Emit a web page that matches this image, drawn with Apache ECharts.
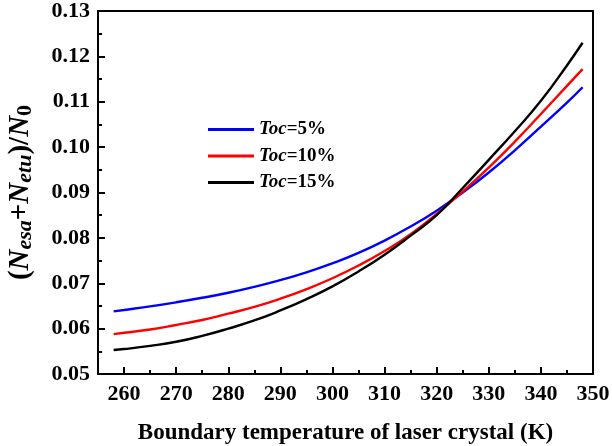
<!DOCTYPE html>
<html><head><meta charset="utf-8">
<script src="https://cdn.jsdelivr.net/npm/echarts@6/dist/echarts.min.js"></script>
<style>html,body{margin:0;padding:0;background:#fff}#c{width:612px;height:446px}</style>
</head><body><div id="c"></div>
<script>
var temps = [258,260,265,270,275,280,285,290,295,300,305,310,315,320,325,330,335,340,345,348];
var toc5  = [0.0638,0.0641,0.0649,0.0658,0.0668,0.0679,0.0692,0.0707,0.0724,0.0744,0.0767,0.0794,0.0825,0.0860,0.0900,0.0944,0.0993,0.1045,0.1098,0.1132];
var toc10 = [0.0588,0.0591,0.0598,0.0608,0.0619,0.0633,0.0648,0.0666,0.0687,0.0711,0.0739,0.0771,0.0808,0.0853,0.0902,0.0955,0.1012,0.1073,0.1135,0.1172];
var toc15 = [0.0553,0.0555,0.0562,0.0571,0.0584,0.0600,0.0618,0.0640,0.0665,0.0693,0.0726,0.0763,0.0805,0.0850,0.0910,0.0972,0.1035,0.1102,0.1180,0.1230];
var seriesNames = ['Toc=5%','Toc=10%','Toc=15%'];
var xMajor = [260,270,280,290,300,310,320,330,340,350];
var xMinor = [265,275,285,295,305,315,325,335,345];

var FONT = '"Liberation Serif","Times New Roman",serif';
function pairs(ys){ return temps.map(function(t,i){ return [t, ys[i]]; }); }
var chart = echarts.init(document.getElementById('c'));
var axisLine = {show:true, lineStyle:{color:'#000', width:2}};
chart.setOption({
  backgroundColor:'#fff',
  animation:false,
  grid:{left:98, right:19, top:11, bottom:72, containLabel:false, outerBoundsMode:'none'},
  legend:{
    orient:'vertical', left:208, top:120, itemGap:7.5, padding:0,
    itemWidth:46, itemHeight:3, icon:'rect',
    data:seriesNames,
    formatter:function(n){ return '{i|Toc}{b|' + n.slice(3) + '}'; },
    textStyle:{
      rich:{
        i:{fontFamily:FONT, fontStyle:'italic', fontWeight:'bold', fontSize:19, lineHeight:20, color:'#000'},
        b:{fontFamily:FONT, fontWeight:'bold', fontSize:19, lineHeight:20, color:'#000'}
      }
    }
  },
  xAxis:[
    {type:'value', min:255, max:350, position:'bottom',
     axisLine:axisLine,
     axisTick:{show:true, inside:true, length:7, customValues:xMajor, lineStyle:{color:'#000', width:2}},
     axisLabel:{customValues:xMajor, margin:9, color:'#000', fontFamily:FONT, fontWeight:'bold', fontSize:22},
     splitLine:{show:false},
     name:'Boundary temperature of laser crystal (K)', nameLocation:'middle', nameGap:48,
     nameTextStyle:{fontFamily:FONT, fontWeight:'bold', fontSize:23, color:'#000'}
    },
    {type:'value', min:255, max:350, position:'bottom',
     axisLine:{show:false},
     axisTick:{show:true, inside:true, length:4, customValues:xMinor, lineStyle:{color:'#000', width:2}},
     axisLabel:{show:false}, splitLine:{show:false}
    },
    {type:'value', min:255, max:350, position:'top',
     axisLine:axisLine, axisTick:{show:false}, axisLabel:{show:false}, splitLine:{show:false}
    }
  ],
  yAxis:[
    {type:'value', min:0.05, max:0.13, interval:0.01,
     axisLine:axisLine,
     axisTick:{show:true, inside:true, length:7, lineStyle:{color:'#000', width:2}},
     minorTick:{show:true, splitNumber:2, length:4, lineStyle:{color:'#000', width:2}},
     axisLabel:{margin:8, color:'#000', fontFamily:FONT, fontWeight:'bold', fontSize:22,
       formatter:function(v){ return v.toFixed(2); }},
     splitLine:{show:false},
     name:'{p|(}{n|N}{s|esa}{p|+}{n|N}{s|etu}{p|)/}{n|N}{z|0}',
     nameLocation:'middle', nameRotate:90, nameGap:62,
     nameTextStyle:{
       rich:{
         p:{fontFamily:FONT, fontWeight:'bold', fontSize:29, lineHeight:30, color:'#000'},
         n:{fontFamily:FONT, fontWeight:'bold', fontStyle:'italic', fontSize:29, lineHeight:30, color:'#000'},
         s:{fontFamily:FONT, fontWeight:'bold', fontStyle:'italic', fontSize:22, lineHeight:19, verticalAlign:'bottom', color:'#000'},
         z:{fontFamily:FONT, fontWeight:'bold', fontSize:22, lineHeight:19, verticalAlign:'bottom', color:'#000'}
       }
     }
    },
    {type:'value', min:0.05, max:0.13, position:'right',
     axisLine:axisLine, axisTick:{show:false}, axisLabel:{show:false}, splitLine:{show:false}
    }
  ],
  series:[
    {name:seriesNames[0], type:'line', data:pairs(toc5), smooth:true, symbol:'none', color:'#0000ff', lineStyle:{width:2.4, color:'#0000ff'}},
    {name:seriesNames[1], type:'line', data:pairs(toc10), smooth:true, symbol:'none', color:'#ff0000', lineStyle:{width:2.4, color:'#ff0000'}},
    {name:seriesNames[2], type:'line', data:pairs(toc15), smooth:true, symbol:'none', color:'#000000', lineStyle:{width:2.4, color:'#000000'}}
  ]
});
</script></body></html>
